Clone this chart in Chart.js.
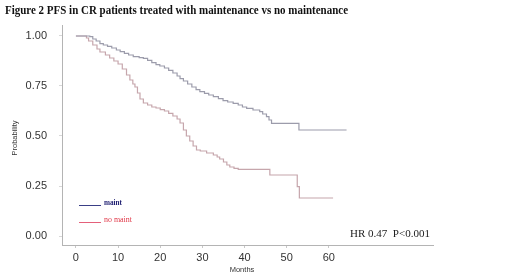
<!DOCTYPE html>
<html>
<head>
<meta charset="utf-8">
<script src="https://cdn.jsdelivr.net/npm/chart.js@4/dist/chart.umd.min.js"></script>
<style>
  html, body { margin: 0; padding: 0; background: #fff; }
  #wrap { width: 520px; height: 276px; position: relative; }
</style>
</head>
<body>
<div id="wrap"><canvas id="kmChart" width="520" height="276"></canvas></div>
<script>
// Kaplan-Meier PFS (months, probability)
const maintMonths = [0, 3.3, 4, 4.8, 5.7, 6.5, 7.5, 8.5, 9.6, 10.5, 11.5, 12.5, 13.6, 15, 16, 17, 18, 19, 19.9,
  21, 22, 23, 24, 24.7, 25.5, 26.5, 27.5, 28.5, 29.4, 30.5, 31.5, 32.6, 33.8, 34.9, 36, 37.3, 38.5, 39.5,
  40.5, 42, 43.6, 44.3, 45.2, 45.8, 46.4, 52.9, 64.2];
const maintProb = [1, 0.997, 0.985, 0.975, 0.962, 0.955, 0.948, 0.94, 0.93, 0.922, 0.913, 0.905, 0.897, 0.892, 0.888,
  0.878, 0.867, 0.857, 0.85, 0.84, 0.828, 0.815, 0.8, 0.787, 0.775, 0.76, 0.745, 0.732, 0.722, 0.713, 0.705,
  0.697, 0.687, 0.677, 0.67, 0.663, 0.655, 0.645, 0.638, 0.63, 0.622, 0.61, 0.597, 0.58, 0.563, 0.53, 0.53];

const noMaintMonths = [0, 2, 2.5, 3, 4, 5, 5.7, 7, 8, 9, 10, 11, 12, 12.8, 13.5, 14, 14.6, 15.2, 16, 17, 18, 19, 20,
  21, 22, 23, 24, 24.7, 25.5, 26.2, 27, 27.8, 28.6, 29.5, 31, 32.6, 33.5, 34.1, 35, 35.8, 36.5, 37.5, 38.5,
  46, 52.5, 53, 61];
const noMaintProb = [1, 1, 0.99, 0.975, 0.955, 0.935, 0.92, 0.905, 0.89, 0.875, 0.86, 0.835, 0.805, 0.78, 0.76, 0.745,
  0.715, 0.685, 0.665, 0.655, 0.645, 0.64, 0.632, 0.625, 0.613, 0.6, 0.585, 0.565, 0.53, 0.5, 0.475, 0.45,
  0.43, 0.425, 0.415, 0.405, 0.395, 0.385, 0.37, 0.355, 0.345, 0.338, 0.333, 0.305, 0.247, 0.19, 0.19];

const xTicks = [0, 10, 20, 30, 40, 50, 60];
const yTicks = [0, 0.25, 0.5, 0.75, 1];

const titleText = "Figure 2 PFS in CR patients treated with maintenance vs no maintenance";
const hrText = "HR 0.47  P<0.001";
const legendLabels = ["maint", "no maint"];

const toPoints = (xs, ys) => xs.map((x, i) => ({ x, y: ys[i] }));

// draw text squeezed to a given width
function fitText(ctx, text, x, y, width) {
  const w = ctx.measureText(text).width;
  ctx.save();
  ctx.translate(x, y);
  ctx.scale(width / w, 1);
  ctx.fillText(text, 0, 0);
  ctx.restore();
}

const annotations = {
  id: "annotations",
  afterDraw(chart) {
    const ctx = chart.ctx;
    ctx.save();
    ctx.textAlign = "left";
    ctx.textBaseline = "alphabetic";

    // title
    ctx.fillStyle = "#111";
    ctx.font = "bold 12px 'Liberation Serif'";
    fitText(ctx, titleText, 5, 14, 343);

    // HR text
    ctx.fillStyle = "#222";
    ctx.font = "10px 'Liberation Serif'";
    fitText(ctx, hrText, 350, 237, 80);

    // legend
    ctx.lineWidth = 1;
    ctx.strokeStyle = "#3a3f86";
    ctx.beginPath(); ctx.moveTo(79, 205.5); ctx.lineTo(101, 205.5); ctx.stroke();
    ctx.strokeStyle = "#e4607a";
    ctx.beginPath(); ctx.moveTo(79, 222.5); ctx.lineTo(101, 222.5); ctx.stroke();
    ctx.fillStyle = "#1c1c70";
    ctx.font = "bold 8px 'Liberation Serif'";
    fitText(ctx, legendLabels[0], 104, 205, 18);
    ctx.fillStyle = "#e03848";
    ctx.font = "8px 'Liberation Serif'";
    fitText(ctx, legendLabels[1], 104, 222, 28);

    // axis titles
    ctx.fillStyle = "#333";
    ctx.font = "7.5px 'Liberation Sans'";
    ctx.textAlign = "center";
    ctx.textBaseline = "middle";
    ctx.fillText("Months", 242, 269.5);
    ctx.translate(15, 138);
    ctx.rotate(-Math.PI / 2);
    ctx.fillText("Probability", 0, 0);
    ctx.restore();
  }
};

const ctx = document.getElementById("kmChart").getContext("2d");
new Chart(ctx, {
  type: "line",
  data: {
    datasets: [
      {
        label: legendLabels[0],
        data: toPoints(maintMonths, maintProb),
        borderColor: "#9c9cab",
        borderWidth: 1.2,
        stepped: true,
        pointRadius: 0,
        fill: false
      },
      {
        label: legendLabels[1],
        data: toPoints(noMaintMonths, noMaintProb),
        borderColor: "#c6a6ac",
        borderWidth: 1.2,
        stepped: true,
        pointRadius: 0,
        fill: false
      }
    ]
  },
  options: {
    responsive: false,
    animation: false,
    devicePixelRatio: 1,
    layout: { padding: { top: 25, right: 87, left: 0, bottom: 0 } },
    plugins: {
      legend: { display: false },
      tooltip: { enabled: false },
      title: { display: false }
    },
    scales: {
      x: {
        type: "linear",
        min: -3.3,
        max: 84.7,
        afterBuildTicks: s => { s.ticks = xTicks.map(v => ({ value: v })); },
        afterFit: s => { s.height = 31; },
        grid: { drawOnChartArea: false, tickLength: 3, color: "#c8c8c8" },
        border: { color: "#b4b4b4", width: 1 },
        ticks: { color: "#333", font: { family: "'Liberation Sans'", size: 11 }, padding: 3, maxRotation: 0 }
      },
      y: {
        type: "linear",
        min: -0.045,
        max: 1.055,
        afterBuildTicks: s => { s.ticks = yTicks.map(v => ({ value: v })); },
        afterFit: s => { s.width = 62; },
        grid: { drawOnChartArea: false, tickLength: 3, color: "#d8d8d8" },
        border: { color: "#b4b4b4", width: 1 },
        ticks: {
          color: "#333",
          font: { family: "'Liberation Sans'", size: 11 },
          padding: 12,
          callback: v => Number(v).toFixed(2)
        }
      }
    }
  },
  plugins: [annotations]
});
</script>
</body>
</html>
